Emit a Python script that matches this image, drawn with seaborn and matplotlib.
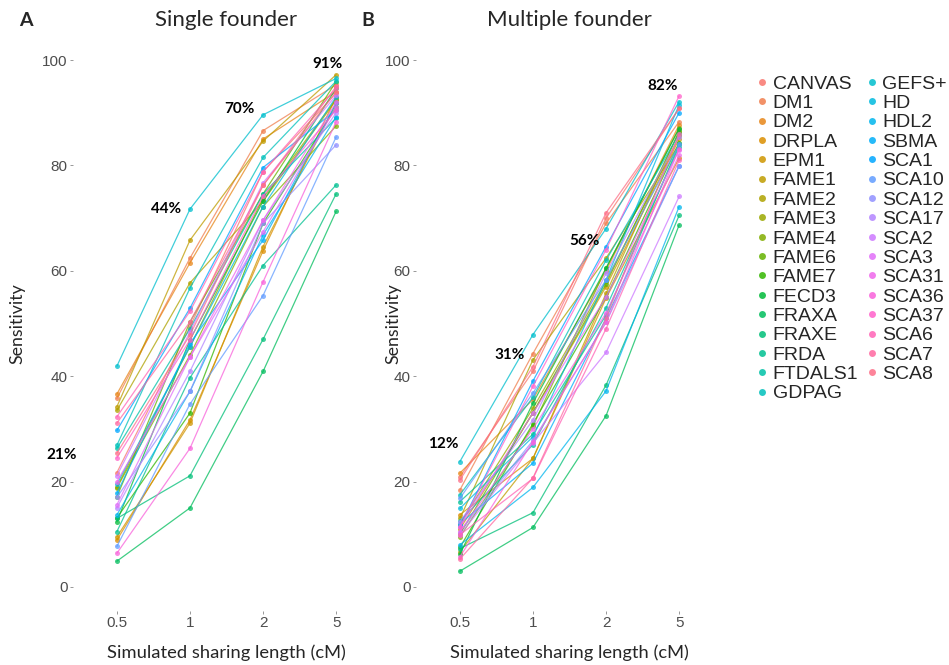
import numpy as np
import pandas as pd
import matplotlib
matplotlib.use("Agg")
import matplotlib.pyplot as plt
from matplotlib.lines import Line2D
import seaborn as sns

# sharing lengths on the x axis
lengths = ["0.5", "1", "2", "5"]

diseases = ["CANVAS", "DM1", "DM2", "DRPLA", "EPM1", "FAME1", "FAME2", "FAME3",
            "FAME4", "FAME6", "FAME7", "FECD3", "FRAXA", "FRAXE", "FRDA", "FTDALS1",
            "GDPAG", "GEFS+", "HD", "HDL2", "SBMA", "SCA1", "SCA10", "SCA12",
            "SCA17", "SCA2", "SCA3", "SCA31", "SCA36", "SCA37", "SCA6", "SCA7", "SCA8"]

# single founder sensitivity, one list per sharing length (same order as diseases)
single_05 = [21.7, 35.8, 36.6, 8.9, 9.5, 34.2, 33.5, 19.0, 18.8, 17.1, 13.1, 12.4, 4.9,
             13.0, 10.5, 26.3, 26.9, 41.9, 19.5, 13.7, 17.8, 29.7, 7.7, 17.0, 15.0, 21.1,
             15.6, 20.0, 6.4, 24.5, 32.3, 31.1, 25.4]
single_1 = [49.4, 62.4, 61.5, 31.7, 31.1, 65.8, 57.7, 45.6, 44.0, 50.3, 33.0, 46.9, 15.0,
            21.1, 39.7, 49.0, 56.7, 71.7, 45.6, 37.1, 46.2, 52.9, 34.7, 37.1, 40.9, 48.4,
            43.6, 43.6, 26.3, 46.9, 52.3, 50.3, 47.8]
single_2 = [78.8, 86.6, 85.0, 63.8, 64.6, 84.6, 73.2, 73.8, 72.2, 74.6, 69.0, 73.2, 40.9,
            47.0, 61.0, 74.6, 81.5, 89.6, 72.2, 66.8, 65.8, 79.6, 55.3, 69.0, 69.6, 76.7,
            67.4, 69.6, 57.9, 74.2, 78.8, 76.2, 76.2]
single_5 = [93.7, 95.3, 94.0, 93.0, 91.8, 97.2, 92.4, 92.6, 87.5, 95.9, 91.1, 94.6, 71.3,
            74.6, 76.3, 89.0, 96.0, 96.5, 93.0, 89.2, 91.8, 90.5, 85.4, 83.9, 90.0, 93.3,
            91.1, 92.0, 88.3, 90.5, 94.6, 95.0, 94.0]

# multiple founder sensitivity
multi_05 = [20.9, 18.4, 21.6, 13.7, 11.0, 6.7, 13.0, 12.0, 9.5, 10.0, 7.5, 6.2, 3.0,
            7.3, 16.2, 12.5, 17.5, 23.8, 14.9, 8.0, 12.0, 11.5, 16.8, 10.5, 12.4, 9.9,
            11.4, 10.5, 5.7, 11.4, 9.9, 5.3, 20.3]
multi_1 = [40.9, 44.3, 35.6, 24.4, 33.0, 24.4, 43.1, 33.9, 30.5, 33.1, 31.0, 34.9, 11.3,
           14.1, 29.0, 27.0, 36.0, 47.9, 28.5, 18.9, 23.5, 39.1, 36.8, 27.8, 31.7, 27.3,
           33.0, 30.0, 27.6, 38.1, 20.6, 20.7, 41.8]
multi_2 = [70.0, 69.0, 60.0, 54.8, 57.0, 55.7, 62.4, 58.0, 60.5, 57.5, 55.0, 60.5, 32.5,
           38.3, 51.6, 53.0, 62.0, 68.0, 58.3, 37.2, 51.0, 64.6, 58.3, 50.2, 59.5, 44.5,
           55.0, 52.0, 50.2, 64.0, 49.0, 51.0, 71.0]
multi_5 = [90.8, 88.3, 87.7, 81.4, 85.0, 86.5, 84.0, 85.5, 87.1, 86.4, 84.3, 87.0, 68.7,
           70.5, 84.0, 83.5, 86.0, 92.1, 91.5, 72.2, 79.9, 90.0, 84.0, 79.9, 85.4, 74.1,
           83.0, 82.0, 83.1, 93.2, 81.0, 86.0, 90.8]

single_pct = ["21%", "44%", "70%", "91%"]
multi_pct = ["12%", "31%", "56%", "82%"]


def gg_hue(n, l=65, c=100):
    # ggplot2 default hue palette (HCL -> sRGB)
    h = np.deg2rad(np.linspace(15, 375, n + 1)[:-1])
    u, v = c * np.cos(h), c * np.sin(h)
    xn, yn, zn = 0.95047, 1.0, 1.08883
    un = 4 * xn / (xn + 15 * yn + 3 * zn)
    vn = 9 * yn / (xn + 15 * yn + 3 * zn)
    y = yn * ((l + 16) / 116) ** 3
    up, vp = u / (13 * l) + un, v / (13 * l) + vn
    x = y * 9 * up / (4 * vp)
    z = y * (12 - 3 * up - 20 * vp) / (4 * vp)
    m = np.array([[3.2404542, -1.5371385, -0.4985314],
                  [-0.9692660, 1.8760108, 0.0415560],
                  [0.0556434, -0.2040259, 1.0572252]])
    rgb = np.clip(m @ np.vstack([x, np.full_like(x, y), z]), 0, None)
    rgb = np.where(rgb <= 0.0031308, 12.92 * rgb, 1.055 * rgb ** (1 / 2.4) - 0.055)
    return [tuple(col) for col in np.clip(rgb, 0, 1).T]


def long_df(cols):
    frames = []
    for i, vals in enumerate(cols):
        frames.append(pd.DataFrame({"disease": diseases, "pos": i, "sens": vals}))
    return pd.concat(frames, ignore_index=True)


sns.set_style("white")
colors = gg_hue(len(diseases))

W, H = 949, 665
fig = plt.figure(figsize=(W / 100, H / 100), dpi=100)

y_lo, y_hi = -4.5, 104.5
px_per = 5.27
top_px = 587 - y_hi * px_per
bot_px = 587 - y_lo * px_per
ax_h = (bot_px - top_px) / H
ax_b = (H - bot_px) / H
ax_w = 307 / W

panels = [
    ("A", "Single founder", 73, [single_05, single_1, single_2, single_5], single_pct,
     [(-0.75, 25), (0.67, 71.7), (1.68, 90.7), (2.88, 99.2)], -0.181),
    ("B", "Multiple founder", 416, [multi_05, multi_1, multi_2, multi_5], multi_pct,
     [(-0.23, 27.1), (0.68, 44.0), (1.71, 65.7), (2.77, 95.0)], -0.075),
]

grey = "#4D4D4D"
for letter, title, left_px, cols, pcts, pct_pos, ylab_x in panels:
    ax = fig.add_axes([left_px / W, ax_b, ax_w, ax_h])
    df = long_df(cols)
    sns.lineplot(data=df, x="pos", y="sens", hue="disease", hue_order=diseases,
                 palette=colors, marker="o", markersize=3.6, markeredgewidth=0,
                 linewidth=0.9, alpha=0.75, estimator=None, sort=False,
                 legend=False, ax=ax)
    ax.set_xlim(-0.6, 3.6)
    ax.set_ylim(y_lo, y_hi)
    ax.set_xticks(range(len(lengths)))
    ax.set_xticklabels(lengths)
    ax.set_yticks([0, 20, 40, 60, 80, 100])
    for s in ax.spines.values():
        s.set_visible(False)
    ax.tick_params(axis="both", bottom=True, left=True, length=2.5, width=0.6,
                   color="#888888", labelcolor=grey, labelsize=11, pad=1.5)
    for t in ax.get_xticklabels() + ax.get_yticklabels():
        t.set_family("Liberation Sans")
    ax.set_xlabel("Simulated sharing length (cM)", family="Lato", fontsize=13.2)
    ax.set_ylabel("Sensitivity", family="Lato", fontsize=12.8)
    ax.xaxis.set_label_coords(0.5, -(653 - bot_px) / (bot_px - top_px))
    ax.xaxis.label.set_va("center")
    ax.yaxis.set_label_coords(ylab_x, 0.5)
    ax.yaxis.label.set_va("center")
    ax.text(0.5, (bot_px - 20) / (bot_px - top_px), title, transform=ax.transAxes,
            ha="center", va="center", family="Lato", fontsize=16)
    for txt, (px, py) in zip(pcts, pct_pos):
        ax.text(px, py, txt, ha="center", va="center", family="Lato",
                fontweight="bold", fontsize=11, color="black")
    fig.text((26 if letter == "A" else 368) / W, 1 - 20 / H, letter, ha="center",
             va="center", family="Lato", fontweight="bold", fontsize=14)

handles = [Line2D([], [], marker="o", ls="", color=c, markersize=5, markeredgewidth=0,
                  alpha=0.85)
           for c in colors]
fig.legend(handles, diseases, loc="upper left", bbox_to_anchor=(757 / W, 1 - 75 / H),
           ncol=2, frameon=False, prop={"family": "Liberation Sans", "size": 14},
           handlelength=0.5, handletextpad=0.3, columnspacing=0.45,
           labelspacing=0.09, borderpad=0, borderaxespad=0)

fig.savefig("out.png", dpi=100)
